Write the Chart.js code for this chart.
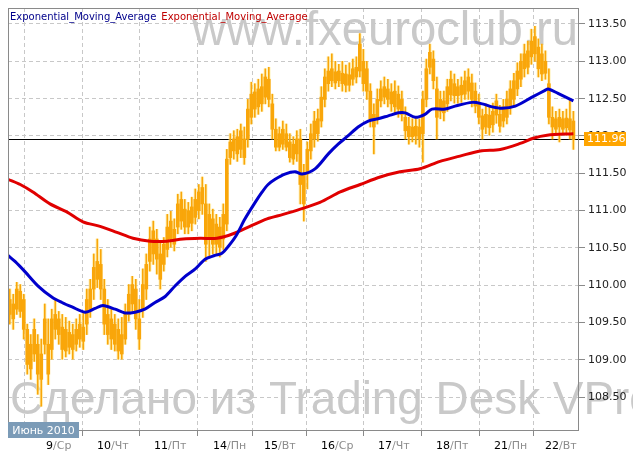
<!DOCTYPE html>
<html><head><meta charset="utf-8">
<script src="https://cdn.jsdelivr.net/npm/chart.js@4.4.0/dist/chart.umd.min.js"></script>
<style>html,body{margin:0;padding:0;background:#fff;overflow:hidden}</style>
</head><body>
<canvas id="c" width="633" height="459"></canvas>
<script>
// ---- data (hourly candles, June 2010) ----
const opens = [109.61,109.75,109.68,109.92,109.81,109.41,108.88,109.08,109.21,108.74,
109.21,109.21,109.14,109.41,109.55,109.44,109.12,109.37,109.14,109.21,
109.28,109.44,109.48,109.68,109.95,110.08,110.28,109.95,109.34,109.55,
109.21,109.41,109.08,109.28,109.61,109.75,109.95,109.55,109.68,109.95,
110.32,110.42,110.62,110.42,110.28,110.48,110.62,110.75,110.78,111.15,
110.78,111.00,110.83,110.91,111.00,111.09,111.09,110.62,110.89,110.55,
110.78,110.62,110.82,111.71,111.80,111.99,111.82,111.96,111.96,112.25,
112.59,112.39,112.43,112.52,112.76,112.43,112.09,111.85,111.89,112.03,
111.92,111.69,111.76,111.96,111.49,111.49,111.80,111.96,112.03,112.20,
112.49,112.70,112.74,112.86,112.74,112.84,112.68,112.82,112.76,112.79,
112.87,113.00,112.90,112.60,112.29,112.25,112.47,112.52,112.63,112.43,
112.60,112.36,112.49,112.25,112.13,111.99,112.13,111.96,112.03,112.49,
112.92,113.03,112.63,112.33,112.47,112.43,112.55,112.70,112.54,112.68,
112.56,112.60,112.71,112.60,112.43,112.27,112.12,112.28,112.15,112.28,
112.29,112.20,112.25,112.39,112.49,112.63,112.76,112.90,113.14,113.06,
113.33,113.19,112.83,113.00,112.70,112.25,112.09,112.25,112.09,112.24,
112.08,112.20];
const highs = [109.95,109.88,110.04,110.01,109.88,109.48,109.34,109.55,109.34,109.28,
109.75,109.55,109.68,109.81,109.65,109.61,109.57,109.52,109.48,109.55,
109.61,109.65,109.95,110.08,110.42,110.62,110.48,110.08,109.81,109.68,
109.61,109.55,109.57,109.75,110.01,110.12,110.08,109.81,110.22,110.42,
110.78,110.86,110.75,110.58,110.64,110.95,110.99,110.89,111.22,111.25,
111.15,111.11,111.18,111.29,111.35,111.45,111.35,111.09,111.02,110.95,
110.91,111.09,111.82,112.03,112.07,112.09,112.16,112.12,112.49,112.72,
112.70,112.76,112.83,112.90,112.92,112.56,112.23,112.12,112.20,112.16,
112.03,111.99,112.07,112.09,111.62,111.92,112.16,112.33,112.36,112.66,
112.90,113.06,113.10,113.00,112.96,113.00,112.95,112.98,113.03,113.06,
113.37,113.16,113.00,112.70,112.43,112.63,112.74,112.79,112.76,112.70,
112.74,112.67,112.60,112.39,112.25,112.23,112.25,112.23,112.60,113.03,
113.23,113.14,112.79,112.60,112.60,112.76,112.87,112.83,112.76,112.79,
112.87,112.90,112.83,112.71,112.56,112.36,112.43,112.39,112.44,112.56,
112.41,112.49,112.60,112.74,112.84,112.98,113.10,113.23,113.27,113.43,
113.47,113.30,113.23,113.14,112.90,112.39,112.33,112.36,112.33,112.36,
112.49,112.33];
const lows = [109.48,109.41,109.61,109.57,109.28,108.81,108.74,108.98,108.54,108.38,
109.08,108.67,109.01,109.28,109.21,109.01,109.04,109.08,109.01,109.12,
109.17,109.14,109.34,109.57,109.81,109.97,109.81,109.34,109.21,109.14,
109.12,109.01,109.01,109.21,109.52,109.65,109.41,109.14,109.57,109.81,
110.19,110.28,110.15,109.95,110.19,110.38,110.51,110.46,110.69,110.75,
110.69,110.69,110.73,110.82,110.89,110.95,110.32,110.39,110.42,110.42,
110.38,110.48,110.73,111.62,111.69,111.66,111.71,111.62,111.85,112.16,
112.25,112.29,112.33,112.43,112.39,111.96,111.80,111.80,111.82,111.80,
111.65,111.62,111.66,111.09,110.86,111.29,111.69,111.85,111.93,112.12,
112.39,112.60,112.66,112.63,112.66,112.60,112.59,112.60,112.68,112.71,
112.79,112.60,112.49,112.12,111.76,112.16,112.39,112.43,112.39,112.33,
112.29,112.25,112.20,111.96,111.89,111.92,111.89,111.85,111.65,112.39,
112.83,112.63,111.96,112.23,112.20,112.33,112.47,112.44,112.44,112.45,
112.49,112.49,112.39,112.31,112.16,111.96,112.03,112.01,112.05,112.17,
112.05,112.12,112.16,112.29,112.39,112.54,112.66,112.79,112.83,112.96,
113.00,112.79,112.74,112.76,112.16,111.96,112.01,111.92,112.03,112.01,
111.96,111.82];
const closes = [109.81,109.55,109.95,109.65,109.41,108.94,109.21,109.41,108.81,109.08,
109.55,108.81,109.55,109.61,109.34,109.14,109.41,109.17,109.34,109.41,
109.48,109.25,109.81,109.95,110.24,110.32,109.95,109.48,109.61,109.28,
109.48,109.12,109.34,109.61,109.88,110.01,109.55,109.28,110.01,110.28,
110.62,110.73,110.35,110.08,110.55,110.78,110.86,110.55,111.09,110.86,
111.02,110.78,111.05,111.15,111.25,111.31,110.55,110.95,110.55,110.82,
110.51,110.95,111.69,111.92,111.96,111.76,112.07,111.71,112.36,112.56,
112.36,112.63,112.66,112.79,112.49,112.09,111.85,112.03,112.09,111.85,
111.71,111.89,111.96,111.35,111.09,111.82,112.03,112.20,112.23,112.52,
112.79,112.87,112.90,112.71,112.87,112.70,112.83,112.68,112.90,112.92,
113.23,112.70,112.60,112.23,112.12,112.49,112.63,112.66,112.49,112.59,
112.39,112.56,112.29,112.07,111.99,112.12,112.00,112.12,112.49,112.90,
113.12,112.74,112.25,112.49,112.31,112.66,112.76,112.54,112.66,112.55,
112.74,112.79,112.49,112.40,112.25,112.09,112.29,112.11,112.33,112.47,
112.13,112.39,112.49,112.63,112.74,112.87,113.00,113.10,112.92,113.27,
113.10,112.90,113.10,112.84,112.25,112.12,112.23,112.12,112.23,112.11,
112.23,111.96];

// Exponential moving averages (bar position, value)
const emaBlueAt = [-0.5,1.5,4.4,8.1,12.1,14.9,17.8,21.5,24.4,26.6,30.1,32.9,35.8,38.6,41.5,44.4,47.2,50.1,53.0,55.8,58.6,60.6,62.4,64.6,67.2,70.1,72.1,73.8,75.8,78.6,81.5,83.5,87.2,91,93.8,96.6,99.5,102.4,105.2,108.1,111,113,115.8,118.6,120.6,124.4,127.2,132.1,135,137.8,140.6,144.4,149.2,152.9,153.8,156.6,161];
const emaBlue = [110.40,110.32,110.18,109.99,109.84,109.77,109.71,109.64,109.69,109.73,109.68,109.63,109.64,109.68,109.77,109.85,109.99,110.12,110.22,110.35,110.40,110.43,110.52,110.66,110.89,111.11,111.25,111.35,111.42,111.49,111.52,111.49,111.56,111.76,111.89,112.00,112.12,112.20,112.23,112.27,112.31,112.31,112.25,112.29,112.36,112.36,112.40,112.45,112.43,112.39,112.37,112.40,112.52,112.61,112.63,112.57,112.47];
const emaRedAt = [-0.5,3,6.6,11.5,16.4,20.9,25.8,30.6,35.2,40.1,44.9,49.5,54.4,59.2,63.8,68.6,73.5,78.1,83,88.6,94.4,100.1,105.8,111.5,117.2,122.9,128.6,134.4,140.1,145.8,149.5,153.5,161];
const emaRed = [111.42,111.35,111.25,111.09,110.98,110.85,110.79,110.71,110.63,110.59,110.59,110.62,110.63,110.63,110.69,110.79,110.89,110.95,111.02,111.11,111.25,111.35,111.45,111.52,111.56,111.66,111.73,111.80,111.82,111.90,111.97,112.01,112.03];

// x axis: day boundaries (bar positions) and labels
const dayTickAt = [12.4,28.9,45.2,62.1,76.6,92.9,109.2,125.8,142.4,156.9];
const dayNums = ['9','10','11','14','15','16','17','18','21','22'];
const dayNames = ['Ср','Чт','Пт','Пн','Вт','Ср','Чт','Пт','Пн','Вт'];
const monthLabel = 'Июнь 2010';
const yTicks = [108.5,109.0,109.5,110.0,110.5,111.0,111.5,112.0,112.5,113.0,113.5];
const seriesNames = ['Exponential_Moving_Average','Exponential_Moving_Average'];

const FONT = '"DejaVu Sans", sans-serif';
const CANDLE = '#f9a60a';
const GLOW = 'rgba(255,236,150,0.55)';

const wickData = highs.map((h,i)=>({x:i, y:[lows[i], h]}));
const bodyData = opens.map((o,i)=>({x:i, y:[o, closes[i]]}));
const blueData = emaBlue.map((v,i)=>({x:emaBlueAt[i], y:v}));
const redData = emaRed.map((v,i)=>({x:emaRedAt[i], y:v}));
const lastClose = closes[closes.length-1];

const deco = {
  id:'deco',
  beforeDraw(chart){
    const ctx = chart.ctx; ctx.save();
    ctx.fillStyle='#fff'; ctx.fillRect(0,0,chart.width,chart.height);
    ctx.fillStyle='#c9c9c9';
    ctx.textBaseline='alphabetic';
    let t='www.fxeuroclub.ru';
    ctx.font='47px "Liberation Sans"';
    let w=ctx.measureText(t).width, fs=47*386/w;
    ctx.font=fs+'px "Liberation Sans"';
    ctx.textAlign='right';
    ctx.fillText(t,578,45);
    ctx.textAlign='left';
    ctx.font='45px "Liberation Sans"';
    w=ctx.measureText('Сделано из Trading Desk ').width; fs=45*543/w;
    ctx.font=fs+'px "Liberation Sans"';
    ctx.fillText('Сделано из Trading Desk VPro',10,414);
    ctx.restore();
  },
  beforeDatasetsDraw(chart){
    const ctx=chart.ctx, a=chart.chartArea, y=Math.round(chart.scales.y.getPixelForValue(lastClose))+0.5;
    ctx.save(); ctx.strokeStyle='#000'; ctx.lineWidth=1;
    ctx.beginPath(); ctx.moveTo(a.left,y); ctx.lineTo(a.right+6,y); ctx.stroke(); ctx.restore();
  },
  afterDraw(chart){
    const ctx=chart.ctx, a=chart.chartArea, xs=chart.scales.x, ys=chart.scales.y;
    ctx.save();
    ctx.strokeStyle='#8a8a8a'; ctx.lineWidth=1;
    ctx.strokeRect(a.left+0.5,a.top+0.5,a.right-a.left-1,a.bottom-a.top);
    // legend
    ctx.font='10px '+FONT; ctx.textAlign='left'; ctx.textBaseline='alphabetic';
    ctx.fillStyle='#00008b'; ctx.fillText(seriesNames[0],10,20);
    const w0=ctx.measureText(seriesNames[0]).width;
    ctx.fillStyle='#c00000'; ctx.fillText(seriesNames[1],10+w0+5,20);
    // last price label
    const yp=Math.round(ys.getPixelForValue(lastClose));
    ctx.fillStyle='#ffa500'; ctx.fillRect(584,yp-7,42,14);
    ctx.fillStyle='#fff'; ctx.font='11px '+FONT; ctx.textBaseline='middle';
    ctx.fillText(lastClose.toFixed(2),587,yp);
    // x labels
    ctx.textBaseline='alphabetic';
    dayTickAt.forEach((v,i)=>{
      const px=Math.round(xs.getPixelForValue(v));
      ctx.textAlign='right'; ctx.fillStyle='#000'; ctx.fillText(dayNums[i],px,449);
      ctx.textAlign='left'; ctx.fillStyle='#8c8c8c'; ctx.fillText('/'+dayNames[i],px,449);
    });
    // month box
    ctx.fillStyle='#7b9bb7'; ctx.fillRect(8,422,71,16);
    ctx.fillStyle='#fff'; ctx.textAlign='center'; ctx.font='11px '+FONT;
    ctx.fillText(monthLabel,43.5,434);
    ctx.restore();
  }
};

new Chart(document.getElementById('c'), {
  type:'bar',
  data:{datasets:[
    {type:'line', data:blueData, borderColor:'#0000cc', borderWidth:3, pointRadius:0, tension:0.3, order:0},
    {type:'line', data:redData, borderColor:'#e00000', borderWidth:3, pointRadius:0, tension:0.3, order:1},
    {type:'bar', data:bodyData, backgroundColor:CANDLE, barThickness:3, minBarLength:1, grouped:false, order:2},
    {type:'bar', data:wickData, backgroundColor:CANDLE, barThickness:1, grouped:false, order:3},
    {type:'bar', data:wickData, backgroundColor:GLOW, barThickness:3, grouped:false, order:4}
  ]},
  options:{
    responsive:false, animation:false, devicePixelRatio:1, events:[],
    layout:{padding:{left:8,top:8,right:0,bottom:0}},
    plugins:{legend:{display:false}, tooltip:{enabled:false}},
    scales:{
      x:{type:'linear', min:-0.5, max:162.6, offset:false,
        afterBuildTicks(s){ s.ticks = dayTickAt.map(v=>({value:v})); },
        afterFit(s){ s.height=29; s.paddingLeft=0; s.paddingRight=0; },
        ticks:{display:false},
        grid:{color:'#c8c8c8', tickColor:'#8a8a8a', tickLength:6, tickBorderDash:[]},
        border:{display:false, dash:[4,3]}
      },
      y:{type:'linear', position:'right', min:108.062, max:113.714,
        afterBuildTicks(s){ s.ticks = yTicks.map(v=>({value:v})); },
        afterFit(s){ s.width=54; s.paddingTop=0; s.paddingBottom=0; },
        ticks:{color:'#222', font:{family:'DejaVu Sans', size:11}, padding:3, callback:v=>v.toFixed(2)},
        grid:{color:'#c8c8c8', tickColor:'#8a8a8a', tickLength:6, tickBorderDash:[]},
        border:{display:false, dash:[4,3]}
      }
    }
  },
  plugins:[deco]
});
</script>
</body></html>
